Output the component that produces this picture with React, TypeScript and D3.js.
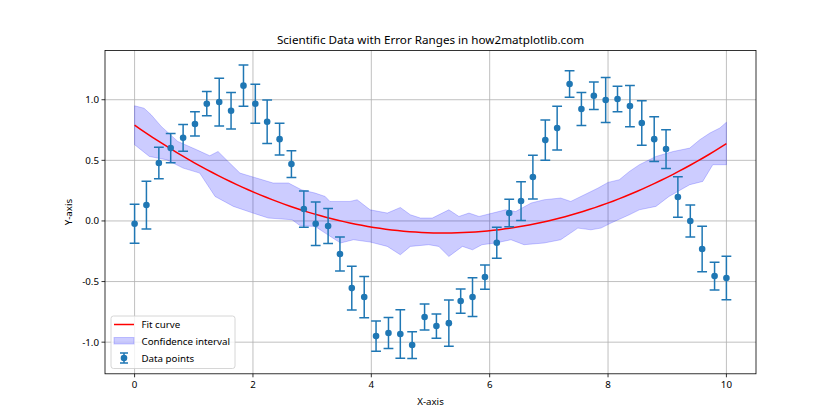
import React from "react";
import * as d3 from "d3";

const xVals = [0, 0.20, 0.41, 0.61, 0.82, 1.02, 1.22, 1.43, 1.63, 1.84, 2.04, 2.24, 2.45, 2.65, 2.86, 3.06, 3.27, 3.47, 3.67, 3.88, 4.08, 4.29, 4.49, 4.69, 4.90, 5.10, 5.31, 5.51, 5.71, 5.92, 6.12, 6.33, 6.53, 6.73, 6.94, 7.14, 7.35, 7.55, 7.76, 7.96, 8.16, 8.37, 8.57, 8.78, 8.98, 9.18, 9.39, 9.59, 9.80, 10.0];
const yVals = [-0.023, 0.131, 0.478, 0.601, 0.686, 0.80, 0.967, 0.981, 0.909, 1.116, 0.967, 0.818, 0.675, 0.469, 0.098, -0.023, -0.042, -0.273, -0.554, -0.628, -0.95, -0.925, -0.933, -1.024, -0.793, -0.867, -0.843, -0.661, -0.628, -0.463, -0.18, 0.065, 0.164, 0.362, 0.667, 0.766, 1.13, 0.923, 1.033, 0.998, 1.006, 0.948, 0.808, 0.675, 0.593, 0.197, -0.001, -0.232, -0.455, -0.471];
const yErr = [0.16, 0.197, 0.13, 0.12, 0.11, 0.10, 0.10, 0.197, 0.15, 0.17, 0.16, 0.18, 0.13, 0.11, 0.15, 0.18, 0.145, 0.14, 0.18, 0.17, 0.125, 0.128, 0.2, 0.11, 0.107, 0.1, 0.19, 0.1, 0.16, 0.1, 0.128, 0.113, 0.16, 0.18, 0.166, 0.18, 0.11, 0.136, 0.114, 0.185, 0.105, 0.17, 0.184, 0.184, 0.16, 0.167, 0.132, 0.188, 0.115, 0.18];

// quadratic fit coefficients (c0 + c1 x + c2 x^2)
const fitCoeffs = [0.79, -0.3398, 0.03245];

const bandUpperX = [0, 0.16, 0.28, 0.45, 0.73, 1.05, 1.27, 1.41, 1.55, 1.78, 2.06, 2.34, 2.6, 2.82, 3.05, 3.22, 3.3, 3.64, 3.76, 3.98, 4.27, 4.49, 4.66, 4.83, 5.03, 5.31, 5.48, 5.65, 5.82, 6.05, 6.27, 6.44, 6.7, 6.92, 7.2, 7.37, 7.6, 7.83, 8.0, 8.19, 8.36, 8.53, 8.81, 9.1, 9.38, 9.55, 9.72, 9.89, 10];
const bandUpperY = [0.95, 0.93, 0.876, 0.78, 0.656, 0.587, 0.538, 0.573, 0.505, 0.395, 0.354, 0.313, 0.313, 0.257, 0.23, 0.202, 0.161, 0.161, 0.175, 0.092, 0.065, 0.111, 0.051, 0.024, 0.024, 0.092, 0.037, 0.065, 0.037, 0.065, 0.092, 0.078, 0.148, 0.175, 0.189, 0.161, 0.216, 0.271, 0.318, 0.34, 0.408, 0.464, 0.532, 0.573, 0.601, 0.67, 0.725, 0.767, 0.814];
const bandLowerX = [0, 0.25, 0.54, 0.82, 1.1, 1.36, 1.67, 2.0, 2.26, 2.66, 2.8, 3.05, 3.22, 3.48, 3.7, 3.98, 4.27, 4.49, 4.66, 4.97, 5.14, 5.31, 5.54, 5.71, 5.87, 6.1, 6.36, 6.58, 6.92, 7.2, 7.49, 7.71, 7.88, 8.05, 8.36, 8.53, 8.81, 9.03, 9.38, 9.6, 9.77, 10];
const bandLowerY = [0.629, 0.532, 0.505, 0.436, 0.395, 0.202, 0.12, 0.065, 0.024, 0.01, -0.04, -0.045, -0.1, -0.182, -0.155, -0.174, -0.21, -0.279, -0.21, -0.196, -0.21, -0.293, -0.21, -0.238, -0.196, -0.182, -0.155, -0.196, -0.182, -0.155, -0.059, -0.073, -0.059, -0.017, 0.051, 0.092, 0.12, 0.202, 0.299, 0.326, 0.464, 0.464];

const xTicks = [0, 2, 4, 6, 8, 10];
const yTicks = [-1.0, -0.5, 0.0, 0.5, 1.0];

const W = 840, H = 420;
const L = 105, R = 756, T = 50.4, B = 373.8;
const FONT = "'Noto Sans', 'DejaVu Sans', sans-serif";
const BLUE = "#1f77b4";

export default function App() {
  const x = d3.scaleLinear().domain([-0.5, 10.5]).range([L, R]);
  const y = d3.scaleLinear().domain([-1.261, 1.407]).range([B, T]);

  const fitFn = (v: number) => fitCoeffs[0] + fitCoeffs[1] * v + fitCoeffs[2] * v * v;
  const fitGrid = d3.range(0, 100).map((i) => (i * 10) / 99);
  const fitPath = d3.line<number>().x((v) => x(v)).y((v) => y(fitFn(v)))(fitGrid) || "";

  const bandPts: [number, number][] = [
    ...bandUpperX.map((v, i) => [x(v), y(bandUpperY[i])] as [number, number]),
    ...bandLowerX.map((v, i) => [x(v), y(bandLowerY[i])] as [number, number]).reverse(),
  ];
  const bandPath = d3.line().curve(d3.curveLinearClosed)(bandPts) || "";

  const cap = 4.9;

  return (
    <svg width={W} height={H} style={{ position: "absolute", left: 0, top: 0, background: "#fff" }} fontFamily={FONT}>
      <rect x={0} y={0} width={W} height={H} fill="#fff" />
      <defs>
        <clipPath id="plotclip">
          <rect x={L} y={T} width={R - L} height={B - T} />
        </clipPath>
      </defs>
      {xTicks.map((t) => (
        <line key={"gx" + t} x1={x(t)} x2={x(t)} y1={T} y2={B} stroke="#b0b0b0" strokeWidth={0.8} />
      ))}
      {yTicks.map((t) => (
        <line key={"gy" + t} x1={L} x2={R} y1={y(t)} y2={y(t)} stroke="#b0b0b0" strokeWidth={0.8} />
      ))}
      <g clipPath="url(#plotclip)">
        <path d={bandPath} fill="#0000ff" fillOpacity={0.2} stroke="#0000ff" strokeOpacity={0.2} strokeWidth={1} />
        <path d={fitPath} fill="none" stroke="#ff0000" strokeWidth={1.5} />
        {xVals.map((xv, i) => {
          const cx = x(xv);
          const y1 = y(yVals[i] + yErr[i]);
          const y2 = y(yVals[i] - yErr[i]);
          return (
            <g key={"e" + i} stroke={BLUE} strokeWidth={1.5}>
              <line x1={cx} x2={cx} y1={y1} y2={y2} />
              <line x1={cx - cap} x2={cx + cap} y1={y1} y2={y1} />
              <line x1={cx - cap} x2={cx + cap} y1={y2} y2={y2} />
            </g>
          );
        })}
        {xVals.map((xv, i) => (
          <circle key={"p" + i} cx={x(xv)} cy={y(yVals[i])} r={3.3} fill={BLUE} />
        ))}
      </g>
      <rect x={L} y={T} width={R - L} height={B - T} fill="none" stroke="#000" strokeWidth={0.8} />
      {xTicks.map((t) => (
        <g key={"xt" + t}>
          <line x1={x(t)} x2={x(t)} y1={B} y2={B + 3.5} stroke="#000" strokeWidth={0.8} />
          <text x={x(t)} y={B + 14.5} fontSize={9.72} textAnchor="middle" fill="#000">{String(t)}</text>
        </g>
      ))}
      {yTicks.map((t) => (
        <g key={"yt" + t}>
          <line x1={L - 3.5} x2={L} y1={y(t)} y2={y(t)} stroke="#000" strokeWidth={0.8} />
          <text x={L - 6} y={y(t) + 3.5} fontSize={9.72} textAnchor="end" fill="#000">{t.toFixed(1)}</text>
        </g>
      ))}
      <text x={(L + R) / 2} y={405} fontSize={9.72} textAnchor="middle" fill="#000">X-axis</text>
      <text transform={`translate(72,${(T + B) / 2}) rotate(-90)`} fontSize={9.72} textAnchor="middle" fill="#000">Y-axis</text>
      <text x={(L + R) / 2} y={44} fontSize={11.67} textAnchor="middle" fill="#000">Scientific Data with Error Ranges in how2matplotlib.com</text>
      <g>
        <rect x={111} y={316} width={124} height={52.5} rx={2.5} fill="#fff" fillOpacity={0.8} stroke="#cccccc" strokeWidth={0.8} />
        <line x1={114} x2={134} y1={324.5} y2={324.5} stroke="#ff0000" strokeWidth={1.5} />
        <text x={141.5} y={328} fontSize={9.72} fill="#000">Fit curve</text>
        <rect x={114} y={337.5} width={20} height={6.5} fill="#0000ff" fillOpacity={0.2} stroke="#0000ff" strokeOpacity={0.2} />
        <text x={141.5} y={344.5} fontSize={9.72} fill="#000">Confidence interval</text>
        <g stroke={BLUE} strokeWidth={1.5}>
          <line x1={124} x2={124} y1={353} y2={363} />
          <line x1={120} x2={128} y1={353} y2={353} />
          <line x1={120} x2={128} y1={363} y2={363} />
        </g>
        <circle cx={124} cy={358} r={3.3} fill={BLUE} />
        <text x={141.5} y={361.5} fontSize={9.72} fill="#000">Data points</text>
      </g>
    </svg>
  );
}
